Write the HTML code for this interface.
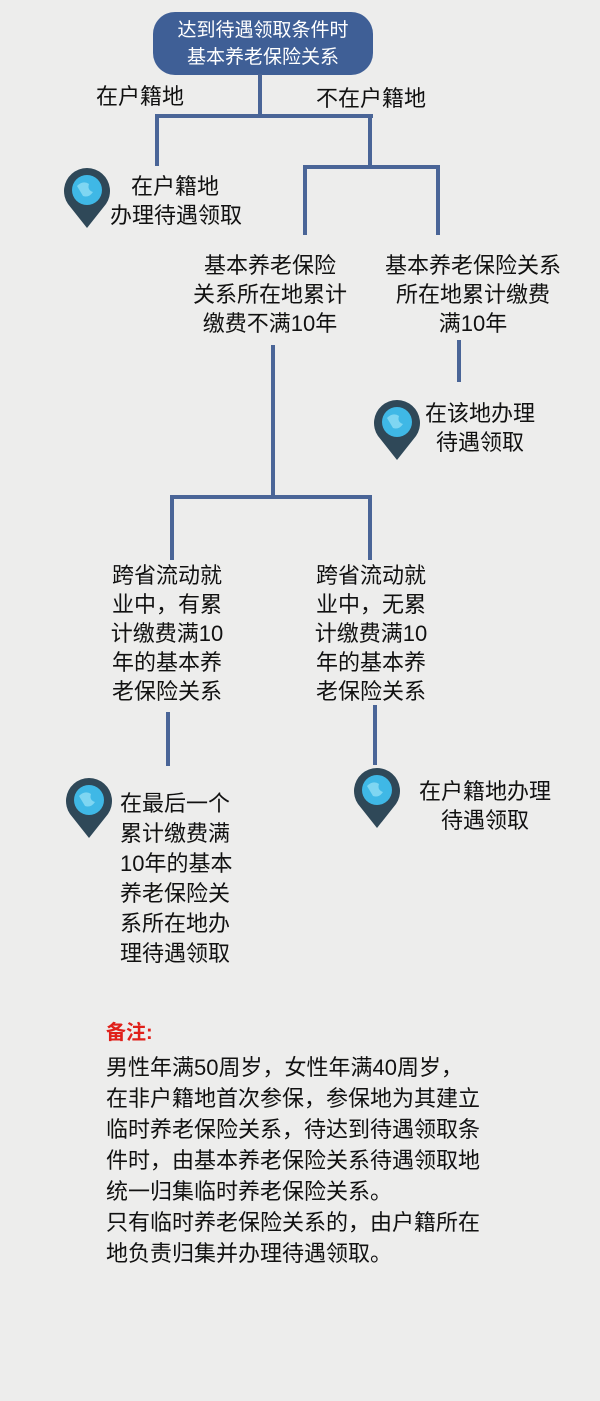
<!DOCTYPE html>
<html><head><meta charset="utf-8"><style>
body{margin:0;width:600px;height:1401px;background:#ededec;position:relative;overflow:hidden;font-family:"Liberation Sans","Noto Sans CJK SC",sans-serif;color:#111}
.t{position:absolute;font-size:22px;line-height:29px;text-align:center;white-space:nowrap}
.l{position:absolute;background:#4a6597}
.pin{position:absolute;width:50px;height:62px}
</style></head><body>
<div style="position:absolute;left:153px;top:12px;width:220px;height:63px;background:#3f5f96;border-radius:22px;color:#fff;font-size:19px;line-height:27px;text-align:center;padding-top:5px;box-sizing:border-box">达到待遇领取条件时<br>基本养老保险关系</div>
<div class="l" style="left:258px;top:74px;width:4px;height:43px"></div>
<div class="l" style="left:155px;top:114px;width:218px;height:4px"></div>
<div class="l" style="left:155px;top:114px;width:4px;height:52px"></div>
<div class="l" style="left:368px;top:114px;width:4px;height:53px"></div>
<div class="l" style="left:303px;top:165px;width:137px;height:4px"></div>
<div class="l" style="left:303px;top:165px;width:4px;height:70px"></div>
<div class="l" style="left:436px;top:165px;width:4px;height:70px"></div>
<div class="t" style="left:96px;top:82px">在户籍地</div>
<div class="t" style="left:316px;top:84px">不在户籍地</div>
<svg class="pin" style="left:62px;top:168px" viewBox="0 0 50 62"><path d="M25 60 L6 36 A23 23 0 1 1 44 36 Z" fill="#2f4858"/><circle cx="25" cy="22" r="15" fill="#3fb8e6"/><path d="M15 18 q6-6 12-2 q-2 6 4 8 q-4 6-10 4 z" fill="#7fd6f2"/></svg>
<div class="t" style="left:110px;top:172px;width:130px">在户籍地<br>办理待遇领取</div>
<div class="t" style="left:180px;top:251px;width:180px">基本养老保险<br>关系所在地累计<br>缴费不满10年</div>
<div class="t" style="left:370px;top:251px;width:206px">基本养老保险关系<br>所在地累计缴费<br>满10年</div>
<div class="l" style="left:457px;top:340px;width:4px;height:42px"></div>
<svg class="pin" style="left:372px;top:400px" viewBox="0 0 50 62"><path d="M25 60 L6 36 A23 23 0 1 1 44 36 Z" fill="#2f4858"/><circle cx="25" cy="22" r="15" fill="#3fb8e6"/><path d="M15 18 q6-6 12-2 q-2 6 4 8 q-4 6-10 4 z" fill="#7fd6f2"/></svg>
<div class="t" style="left:420px;top:399px;width:120px">在该地办理<br>待遇领取</div>
<div class="l" style="left:271px;top:345px;width:4px;height:152px"></div>
<div class="l" style="left:170px;top:495px;width:202px;height:4px"></div>
<div class="l" style="left:170px;top:495px;width:4px;height:65px"></div>
<div class="l" style="left:368px;top:495px;width:4px;height:65px"></div>
<div class="t" style="left:102px;top:561px;width:130px">跨省流动就<br>业中，有累<br>计缴费满10<br>年的基本养<br>老保险关系</div>
<div class="t" style="left:306px;top:561px;width:130px">跨省流动就<br>业中，无累<br>计缴费满10<br>年的基本养<br>老保险关系</div>
<div class="l" style="left:166px;top:712px;width:4px;height:54px"></div>
<div class="l" style="left:373px;top:705px;width:4px;height:60px"></div>
<svg class="pin" style="left:64px;top:778px" viewBox="0 0 50 62"><path d="M25 60 L6 36 A23 23 0 1 1 44 36 Z" fill="#2f4858"/><circle cx="25" cy="22" r="15" fill="#3fb8e6"/><path d="M15 18 q6-6 12-2 q-2 6 4 8 q-4 6-10 4 z" fill="#7fd6f2"/></svg>
<div class="t" style="left:120px;top:789px;width:130px;text-align:left;line-height:30px">在最后一个<br>累计缴费满<br>10年的基本<br>养老保险关<br>系所在地办<br>理待遇领取</div>
<svg class="pin" style="left:352px;top:768px" viewBox="0 0 50 62"><path d="M25 60 L6 36 A23 23 0 1 1 44 36 Z" fill="#2f4858"/><circle cx="25" cy="22" r="15" fill="#3fb8e6"/><path d="M15 18 q6-6 12-2 q-2 6 4 8 q-4 6-10 4 z" fill="#7fd6f2"/></svg>
<div class="t" style="left:405px;top:777px;width:160px">在户籍地办理<br>待遇领取</div>
<div style="position:absolute;left:106px;top:1016px;font-size:20px;font-weight:bold;color:#e0201a">备注:</div>
<div style="position:absolute;left:106px;top:1052px;font-size:22px;line-height:31px;white-space:nowrap">男性年满50周岁，女性年满40周岁，<br>在非户籍地首次参保，参保地为其建立<br>临时养老保险关系，待达到待遇领取条<br>件时，由基本养老保险关系待遇领取地<br>统一归集临时养老保险关系。<br>只有临时养老保险关系的，由户籍所在<br>地负责归集并办理待遇领取。</div>
</body></html>
